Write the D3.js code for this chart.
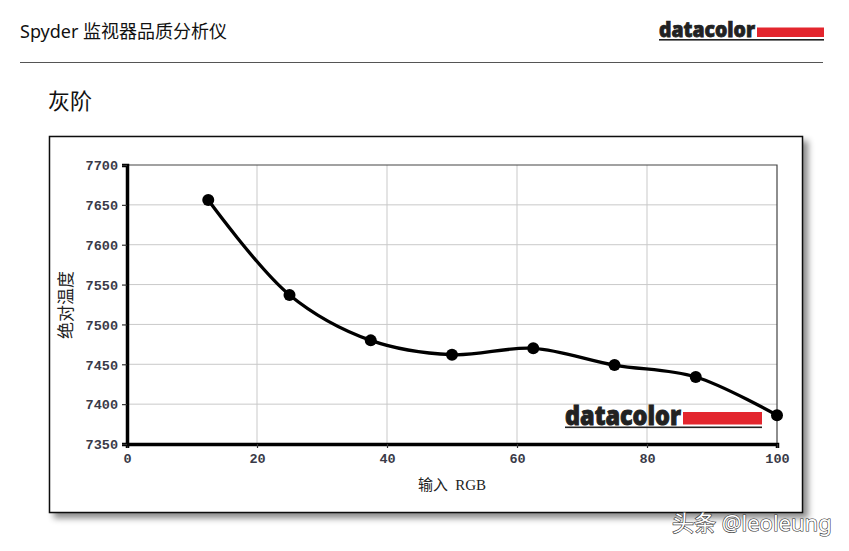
<!DOCTYPE html>
<html>
<head>
<meta charset="utf-8">
<script src="https://cdn.jsdelivr.net/npm/d3@7"></script>
<style>
  html, body { margin: 0; padding: 0; background: #fff; }
  svg { display: block; }
</style>
</head>
<body>
<div id="chart"></div>
<script>
// grey-scale colour temperature
const inputRGB = [12.5, 25, 37.5, 50, 62.5, 75, 87.5, 100];
const colorTemp = [7656, 7537, 7480, 7462, 7470, 7449, 7434, 7386];
const xTicks = [0, 20, 40, 60, 80, 100];
const yTicks = [7350, 7400, 7450, 7500, 7550, 7600, 7650, 7700];

const width = 849;
const height = 551;
const margin = { top: 165, right: 72, bottom: 107, left: 127 };
const cjk = '"Noto Sans", "Noto Sans CJK SC", sans-serif';

const svg = d3.select('#chart')
  .append('svg')
  .attr('width', width)
  .attr('height', height);

const defs = svg.append('defs');
defs.append('filter')
  .attr('id', 'shadow')
  .attr('x', '-5%').attr('y', '-5%')
  .attr('width', '115%').attr('height', '115%')
  .append('feDropShadow')
  .attr('dx', 5).attr('dy', 5)
  .attr('stdDeviation', 3)
  .attr('flood-color', '#000')
  .attr('flood-opacity', 0.45);

// page header
svg.append('text')
  .attr('x', 20).attr('y', 38)
  .attr('font-family', cjk)
  .attr('font-size', 18)
  .attr('fill', '#111')
  .text('Spyder 监视器品质分析仪');

svg.append('line')
  .attr('x1', 20).attr('x2', 823)
  .attr('y1', 62.5).attr('y2', 62.5)
  .attr('stroke', '#555')
  .attr('stroke-width', 1.2);

svg.append('text')
  .attr('x', 48).attr('y', 109)
  .attr('font-family', cjk)
  .attr('font-size', 22)
  .attr('fill', '#111')
  .text('灰阶');

function drawLogo(g, x, baseline, textW, size, barW, barH) {
  g.append('text')
    .attr('x', x).attr('y', baseline)
    .attr('font-family', '"Open Sans", "DejaVu Sans", sans-serif')
    .attr('font-weight', 800)
    .attr('font-size', size)
    .attr('textLength', textW)
    .attr('lengthAdjust', 'spacingAndGlyphs')
    .attr('fill', '#222')
    .attr('stroke', '#222')
    .attr('stroke-width', size / 28)
    .text('datacolor');
  g.append('rect')
    .attr('x', x + textW + 2).attr('y', baseline - barH)
    .attr('width', barW).attr('height', barH)
    .attr('fill', '#e3262e');
  g.append('rect')
    .attr('x', x).attr('y', baseline + 2)
    .attr('width', textW + 2 + barW).attr('height', 1.6)
    .attr('fill', '#222');
}

drawLogo(svg.append('g'), 659, 37, 96, 21, 67, 9.5);

// chart frame with drop shadow
svg.append('rect')
  .attr('x', 49.5).attr('y', 136.5)
  .attr('width', 753).attr('height', 376)
  .attr('fill', '#fff')
  .attr('stroke', '#111')
  .attr('stroke-width', 1.5)
  .attr('filter', 'url(#shadow)');

const x = d3.scaleLinear().domain([0, 100]).range([margin.left, margin.left + 650]);
const y = d3.scaleLinear().domain([7350, 7700]).range([444, margin.top]);

// grid
const grid = svg.append('g').attr('class', 'grid');
grid.selectAll('line.v')
  .data(xTicks.slice(1, -1))
  .join('line')
  .attr('class', 'v')
  .attr('x1', d => x(d)).attr('x2', d => x(d))
  .attr('y1', y(7700)).attr('y2', y(7350))
  .attr('stroke', '#c9c9c9')
  .attr('stroke-width', 1);
grid.selectAll('line.h')
  .data(yTicks.slice(1, -1))
  .join('line')
  .attr('class', 'h')
  .attr('x1', x(0)).attr('x2', x(100))
  .attr('y1', d => y(d)).attr('y2', d => y(d))
  .attr('stroke', '#c9c9c9')
  .attr('stroke-width', 1);

// top and right border of plot
svg.append('path')
  .attr('d', `M${x(0)},${y(7700)}H${x(100)}V${y(7350)}`)
  .attr('fill', 'none')
  .attr('stroke', '#444')
  .attr('stroke-width', 1.2);

// watermark logo inside plot
drawLogo(svg.append('g'), 565, 424.5, 116, 26, 79, 12.5);

// axes
const xAxis = d3.axisBottom(x).tickValues(xTicks).tickSize(4).tickPadding(5).tickFormat(d3.format('d'));
const yAxis = d3.axisLeft(y).tickValues(yTicks).tickSize(5).tickPadding(4).tickFormat(d3.format('d'));

const gx = svg.append('g')
  .attr('transform', `translate(0, ${y(7350)})`)
  .call(xAxis);
const gy = svg.append('g')
  .attr('transform', `translate(${x(0)}, 0)`)
  .call(yAxis);

[gx, gy].forEach(g => {
  g.select('.domain').attr('stroke', '#000').attr('stroke-width', 3.5);
  g.selectAll('.tick line').attr('stroke', '#333').attr('stroke-width', 1.2);
  g.selectAll('.tick text')
    .attr('font-family', '"Liberation Mono", "DejaVu Sans Mono", monospace')
    .attr('font-weight', 700)
    .attr('font-size', 13.5)
    .attr('fill', '#3a3a48');
});
gy.selectAll('.tick text').attr('dy', '0.35em');

// axis titles
svg.append('text')
  .attr('x', 452).attr('y', 490)
  .attr('text-anchor', 'middle')
  .attr('font-size', 15)
  .attr('fill', '#222')
  .call(t => {
    t.append('tspan').attr('font-family', '"Noto Sans CJK SC", sans-serif').text('输入 ');
    t.append('tspan').attr('font-family', '"Liberation Serif", serif').attr('dx', 4).text('RGB');
  });

svg.append('text')
  .attr('transform', `translate(72, 305) rotate(-90)`)
  .attr('text-anchor', 'middle')
  .attr('font-family', '"Noto Sans CJK SC", sans-serif')
  .attr('font-size', 17)
  .attr('fill', '#222')
  .text('绝对温度');

// series
const points = inputRGB.map((v, i) => [v, colorTemp[i]]);
const line = d3.line()
  .x(d => x(d[0]))
  .y(d => y(d[1]))
  .curve(d3.curveCatmullRom.alpha(0.5));

svg.append('path')
  .datum(points)
  .attr('d', line)
  .attr('fill', 'none')
  .attr('stroke', '#000')
  .attr('stroke-width', 3.3);

svg.selectAll('circle.pt')
  .data(points)
  .join('circle')
  .attr('class', 'pt')
  .attr('cx', d => x(d[0]))
  .attr('cy', d => y(d[1]))
  .attr('r', 6)
  .attr('fill', '#000');

// site watermark
svg.append('text')
  .attr('x', 672).attr('y', 531)
  .attr('font-family', cjk)
  .attr('font-size', 22)
  .attr('fill', '#fff')
  .attr('stroke', '#333')
  .attr('stroke-width', 1.2)
  .attr('paint-order', 'stroke')
  .text('头条 @leoleung');
</script>
</body>
</html>
